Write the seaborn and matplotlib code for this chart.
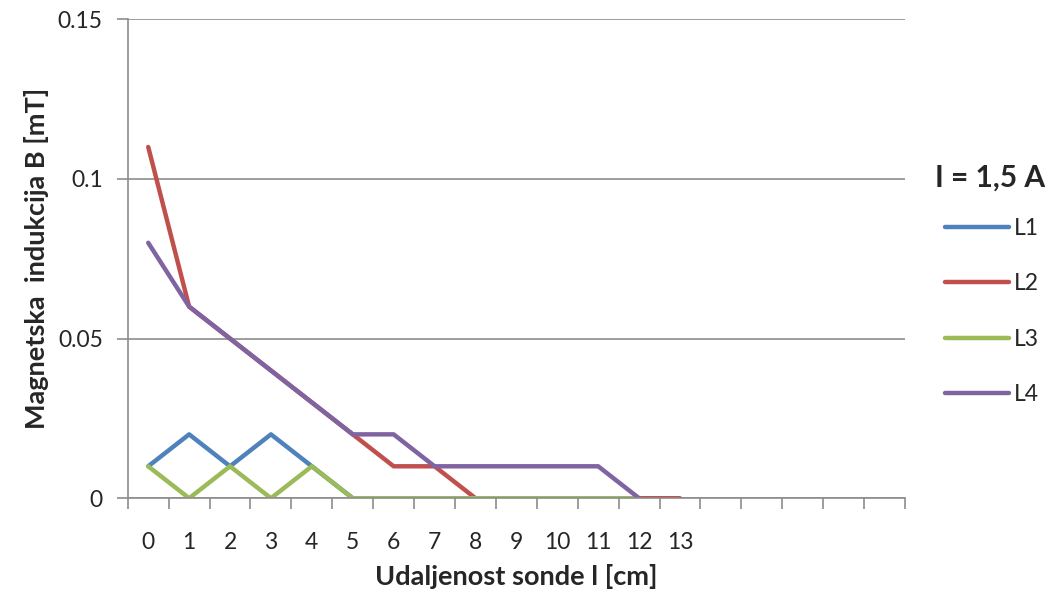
import matplotlib
matplotlib.use('Agg')
import matplotlib.pyplot as plt
import numpy as np
import pandas as pd
import seaborn as sns

# Podaci (udaljenost sonde 0..13 cm, B u mT)
udaljenost = list(range(14))
L1 = [0.01, 0.02, 0.01, 0.02, 0.01, 0, 0, 0, 0, 0, 0, 0, 0]
L2 = [0.11, 0.06, 0.05, 0.04, 0.03, 0.02, 0.01, 0.01, 0, 0, 0, 0, 0, 0]
L3 = [0.01, 0, 0.01, 0, 0.01, 0, 0, 0, 0, 0, 0, 0, 0]
L4 = [0.08, 0.06, 0.05, 0.04, 0.03, 0.02, 0.02, 0.01, 0.01, 0.01, 0.01, 0.01, 0]
serije = {"L1": L1, "L2": L2, "L3": L3, "L4": L4}
boje = {"L1": "#4F81BD", "L2": "#C0504D", "L3": "#9BBB59", "L4": "#8064A2"}
n_kategorija = 19  # excel os ima 19 kategorija, oznake samo 0..13

rows = []
for ime, vals in serije.items():
    for i, v in enumerate(vals):
        rows.append({"x": i, "B": v, "serija": ime})
df = pd.DataFrame(rows)

sns.set_style("white")
plt.rcParams['font.family'] = ['Lato', 'DejaVu Sans']

fig = plt.figure(figsize=(10.56, 6.01), dpi=100)
ax = fig.add_axes([0.121, 0.171, 0.736, 0.797])

sns.lineplot(data=df, x="x", y="B", hue="serija", palette=boje,
             linewidth=3.2, ax=ax, legend=True, solid_capstyle='round')

ax.set_xlim(-0.5, n_kategorija - 0.5)
ax.set_ylim(0, 0.15)
ax.set_yticks([0, 0.05, 0.1, 0.15])
ax.set_yticklabels(["0", "0.05", "0.1", "0.15"])
ax.yaxis.grid(True, color="#8c8c8c", lw=1.2)
ax.set_axisbelow(True)

# tick oznake izmedju kategorija, labele na sredini
ax.set_xticks(np.arange(-0.5, n_kategorija, 1.0))
ax.set_xticklabels([])
ax.set_xticks(udaljenost, minor=True)
ax.set_xticklabels([str(u) for u in udaljenost], minor=True)
ax.tick_params(axis='x', which='major', direction='out', length=8, width=1.2,
               color="#8c8c8c", bottom=True)
ax.tick_params(axis='x', which='minor', length=0, pad=24, labelsize=16.5)
ax.tick_params(axis='y', direction='out', length=8, width=1.2, color="#8c8c8c",
               left=True, labelsize=16.5, pad=10)

for s in ["top", "right"]:
    ax.spines[s].set_visible(False)
for s in ["left", "bottom"]:
    ax.spines[s].set_color("#8c8c8c")
    ax.spines[s].set_linewidth(1.2)

ax.set_xlabel("Udaljenost sonde l [cm]", fontsize=19.5, fontweight="bold", labelpad=8)
ax.set_ylabel("Magnetska  indukcija B [mT]", fontsize=19.5, fontweight="bold", labelpad=6)

# naslov legende posebno, da razmak odgovara originalu
fig.text(0.885, 1 - 178 / 601, "I = 1,5 A", fontsize=21.5, fontweight="bold",
         ha="left", va="center")
h, l = ax.get_legend_handles_labels()
leg = ax.legend(h, l, loc="upper left",
                bbox_to_anchor=(0.895, 1 - 218 / 601), bbox_transform=fig.transFigure,
                frameon=False, fontsize=16.5, labelspacing=1.5, handlelength=2.8,
                handletextpad=0.2, borderpad=0, borderaxespad=0)
for line in leg.get_lines():
    line.set_linewidth(3.2)

fig.savefig("out.png", dpi=100)
